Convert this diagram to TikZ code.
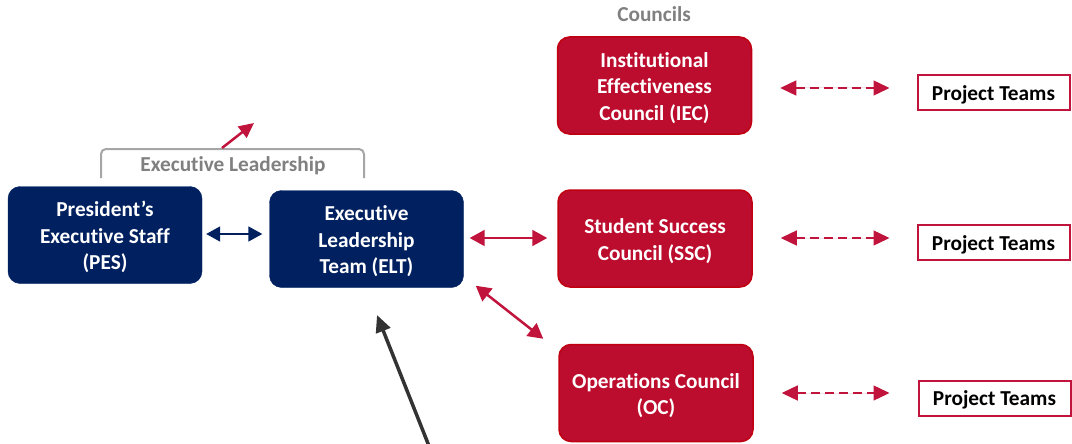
\documentclass[tikz,border=0pt]{standalone}
\usepackage{fontspec}
\setmainfont[Ligatures=NoCommon]{Carlito}
\usetikzlibrary{arrows.meta}
\definecolor{navy}{HTML}{002060}
\definecolor{cred}{HTML}{BC0D2E}
\definecolor{credb}{HTML}{C00010}
\definecolor{tred}{HTML}{C0143C}
\definecolor{agray}{HTML}{808080}
\definecolor{bgray}{HTML}{A6A6A6}
\definecolor{dgray}{HTML}{333333}
\newcommand{\lowtxt}[1]{\raisebox{-3pt}[\height][\depth]{\begin{tabular}{@{}c@{}}#1\end{tabular}}}
\begin{document}
\begin{tikzpicture}[x=1pt,y=-1pt,
  txt/.style={font=\bfseries\fontsize{21.3}{26.5}\selectfont},
  box/.style={txt, rounded corners=12pt, minimum width=194pt, minimum height=97pt, text=white, inner sep=0pt},
  lead/.style={box, fill=navy, draw=navy},
  council/.style={box, fill=cred, draw=credb, line width=1.5pt},
  team/.style={txt, execute at begin node={\rule{0pt}{19pt}}, draw=tred, line width=2pt, minimum width=152pt, minimum height=35pt, text=black, inner sep=0pt},
  glabel/.style={txt, text=agray},
  redarr/.style={draw=tred, fill=tred, line width=2pt, {Triangle[length=15pt,width=16pt]}-{Triangle[length=15pt,width=16pt]}},
  dasharr/.style={draw=tred, fill=tred, line width=1.3pt, dash pattern=on 9pt off 5pt, {Triangle[length=16pt,width=15pt]}-{Triangle[length=16pt,width=15pt]}},
  bluearr/.style={draw=navy, fill=navy, line width=1.6pt, {Triangle[length=14pt,width=15pt]}-{Triangle[length=14pt,width=15pt]}},
  ]
\useasboundingbox (0,0) rectangle (1072,444);

\node[lead] (PES) at (105,235) {\lowtxt{President’s\\Executive Staff\\(PES)}};
\node[lead] (ELT) at (366.5,239) {\lowtxt{Executive\\Leadership\\Team (ELT)}};
\node[council] (IEC) at (654.5,85.5) {\lowtxt{Institutional\\Effectiveness\\Council (IEC)}};
\node[council] (SSC) at (655,238.5) {\lowtxt{Student Success\\Council (SSC)}};
\node[council] (OC) at (656,393) {\lowtxt{Operations Council\\(OC)}};
\node[team] (PT1) at (993.5,93) {Project Teams};
\node[team] (PT2) at (993.5,242.5) {Project Teams};
\node[team] (PT3) at (994.5,398) {Project Teams};

\node[glabel] (councils) at (654,14) {Councils};
\node[glabel] (exlead) at (233,166) {Executive Leadership};

\draw[bgray, line width=2pt, rounded corners=5pt] (101,178) -- (101,149) -- (364,149) -- (364,178);

\coordinate (rs) at (222,148);
\coordinate (re) at (254,123);
\draw[draw=tred, fill=tred, line width=2.5pt, -{Triangle[length=15pt,width=14pt]}] (rs) -- (re);

\draw[bluearr] ([shift={(4,-1)}]PES.east) -- ([shift={(-7,-5)}]ELT.west);
\draw[redarr] ([shift={(6,-1)}]ELT.east) -- ([shift={(-10,-0.5)}]SSC.west);
\draw[redarr, line width=2.5pt] ([shift={(12,-2)}]ELT.south east) -- ([shift={(-15,-5)}]OC.north west);

\draw[dasharr] ([shift={(28,2.5)}]IEC.east) -- ([shift={(-27,-5)}]PT1.west);
\draw[dasharr] ([shift={(28,-0.5)}]SSC.east) -- ([shift={(-27,-4.5)}]PT2.west);
\draw[dasharr] ([shift={(28,0)}]OC.east) -- ([shift={(-28,-5)}]PT3.west);

\coordinate (bs) at (429,446);
\coordinate (be) at (377,315);
\draw[draw=dgray, fill=dgray, line width=3.5pt, -{Triangle[length=17pt,width=15pt]}] (bs) -- (be);
\end{tikzpicture}
\end{document}
